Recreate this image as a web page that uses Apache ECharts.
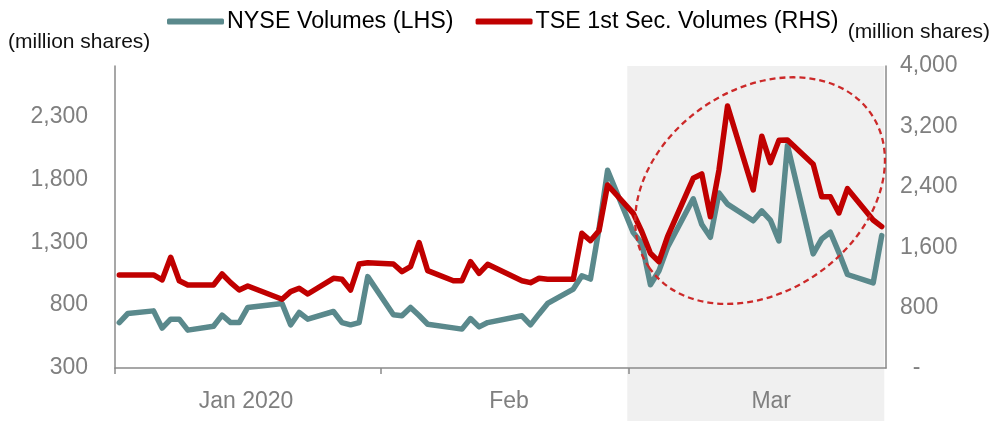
<!DOCTYPE html>
<html>
<head>
<meta charset="utf-8">
<script src="https://cdn.jsdelivr.net/npm/echarts@6/dist/echarts.min.js"></script>
<style>
html, body { margin: 0; padding: 0; background: #fff; }
#chart { width: 992px; height: 421px; }
</style>
</head>
<body>
<div id="chart"></div>
<script>
// trading days, Jan-Mar 2020
var dates = [
    '2020-01-02','2020-01-03','2020-01-06','2020-01-07','2020-01-08','2020-01-09','2020-01-10',
    '2020-01-13','2020-01-14','2020-01-15','2020-01-16','2020-01-17','2020-01-21','2020-01-22',
    '2020-01-23','2020-01-24','2020-01-27','2020-01-28','2020-01-29','2020-01-30','2020-01-31',
    '2020-02-03','2020-02-04','2020-02-05','2020-02-06','2020-02-07','2020-02-10','2020-02-11',
    '2020-02-12','2020-02-13','2020-02-14','2020-02-18','2020-02-19','2020-02-20','2020-02-21',
    '2020-02-24','2020-02-25','2020-02-26','2020-02-27','2020-02-28',
    '2020-03-02','2020-03-03','2020-03-04','2020-03-05','2020-03-06','2020-03-09','2020-03-10',
    '2020-03-11','2020-03-12','2020-03-13','2020-03-16','2020-03-17','2020-03-18','2020-03-19',
    '2020-03-20','2020-03-23','2020-03-24','2020-03-25','2020-03-26','2020-03-27','2020-03-30',
    '2020-03-31'
];
var nyseVolumes = [
    661, 733, 754, 617, 688, 688, 601,
    632, 720, 661, 661, 781, 813, 643,
    741, 688, 749, 661, 643, 661, 1026,
    723, 715, 781, 717, 648, 619, 609,
    693, 627, 661, 715, 643, 730, 813,
    927, 1033, 1007, 1406, 1871,
    1376, 1289, 962, 1073, 1259, 1645, 1440,
    1339, 1691, 1602, 1470, 1549, 1476, 1310,
    2070, 1207, 1326, 1379, 1217, 1043, 976,
    1352
];
var tseVolumes = [
    1232, 1232, 1232, 1166, 1466, 1156, 1099,
    1099, 1245, 1130, 1033, 1086, 910, 1011,
    1056, 980, 1188, 1175, 1033, 1377, 1395,
    1377, 1276, 1342, 1660, 1289, 1156, 1156,
    1408, 1254, 1373, 1156, 1130, 1188, 1175,
    1175, 1784, 1686, 1819, 2424,
    2049, 1805, 1520, 1408, 1739, 2513, 2570,
    2004, 2620, 3470, 2358, 3070, 2719, 3015,
    3020, 2700, 2269, 2269, 2053, 2375, 1960,
    1872
];
var seriesNames = ['NYSE Volumes (LHS)', 'TSE 1st Sec. Volumes (RHS)'];
var leftTicks = [300, 800, 1300, 1800, 2300];
// x axis counts days from 1 Jan 2020
var monthLabels = ['Jan 2020', 'Feb', 'Mar'];
var monthLabelDays = [15.8, 46.5, 77.1];
var monthTickDays = [0.5, 31.5, 60.5];
var marchShade = [60.3, 90.3];
var ellipseCenter = [75.8, 2350];

function dayOf(s) {
    var p = s.split('-');
    return (Date.UTC(+p[0], +p[1] - 1, +p[2]) - Date.UTC(2020, 0, 1)) / 86400000;
}

function formatNumber(v) {
    if (v === 0) return '  -';
    var s = String(v);
    var re = /(\d)(\d{3})(,|$)/;
    while (re.test(s)) s = s.replace(re, '$1,$2$3');
    return s;
}

var chart = echarts.init(document.getElementById('chart'));
var font = "'Liberation Sans', Arial, sans-serif";
var axisGray = '#8a8a8a';
var labelGray = '#7f7f7f';

var option = {
    animation: false,
    textStyle: { fontFamily: font },
    title: [
        { text: '(million shares)', left: 8, top: 32, padding: 0,
          textStyle: { fontSize: 21, fontWeight: 'normal', color: '#111', fontFamily: font } },
        { text: '(million shares)', right: 2, top: 22, padding: 0,
          textStyle: { fontSize: 21, fontWeight: 'normal', color: '#111', fontFamily: font } }
    ],
    legend: {
        data: seriesNames,
        left: 162,
        top: 5,
        icon: 'roundRect',
        itemWidth: 57,
        itemHeight: 6,
        itemGap: 22,
        textStyle: { fontSize: 23.3, color: '#000', fontFamily: font, padding: [0, 0, 0, -2] }
    },
    grid: [
        { left: 115, right: 106, top: 66, bottom: 53 },
        { left: 115, right: 106, top: 368, bottom: 0 }
    ],
    xAxis: [
        {
            type: 'value', gridIndex: 0, min: 0.5, max: 90.5,
            axisLine: { lineStyle: { color: axisGray, width: 1.5 } },
            axisTick: { customValues: monthTickDays, length: 6, lineStyle: { color: axisGray, width: 1.5 } },
            axisLabel: {
                customValues: monthLabelDays,
                margin: 22,
                fontSize: 23,
                color: labelGray,
                formatter: function (v) { return monthLabels[monthLabelDays.indexOf(v)]; }
            },
            splitLine: { show: false }
        },
        { type: 'value', gridIndex: 1, min: 0.5, max: 90.5, show: false }
    ],
    yAxis: [
        {
            type: 'value', gridIndex: 0, min: 300, max: 2700,
            axisLine: { show: true, lineStyle: { color: axisGray, width: 1.5 } },
            axisTick: { show: false },
            axisLabel: { customValues: leftTicks, margin: 27, fontSize: 23, color: labelGray, formatter: formatNumber },
            splitLine: { show: false }
        },
        {
            type: 'value', gridIndex: 0, position: 'right', min: 0, max: 4000, interval: 800,
            axisLine: { show: true, lineStyle: { color: axisGray, width: 1.5 } },
            axisTick: { show: false },
            axisLabel: { margin: 14, fontSize: 23, color: labelGray, formatter: formatNumber },
            splitLine: { show: false }
        },
        { type: 'value', gridIndex: 1, min: 0, max: 1, show: false }
    ],
    series: [
        {
            name: 'shade', type: 'line', xAxisIndex: 0, yAxisIndex: 0, data: [], silent: true,
            markArea: { silent: true, z: -1, itemStyle: { color: '#f0f0f0' },
                data: [[{ xAxis: marchShade[0] }, { xAxis: marchShade[1] }]] }
        },
        {
            name: 'shadeBelow', type: 'line', xAxisIndex: 1, yAxisIndex: 2, data: [], silent: true,
            markArea: { silent: true, z: -1, itemStyle: { color: '#f0f0f0' },
                data: [[{ xAxis: marchShade[0] }, { xAxis: marchShade[1] }]] }
        },
        {
            name: seriesNames[0], type: 'line', xAxisIndex: 0, yAxisIndex: 0,
            data: dates.map(function (d, i) { return [dayOf(d), nyseVolumes[i]]; }),
            showSymbol: false, symbol: 'none', color: '#5a898c', z: 3,
            lineStyle: { width: 5.5, color: '#5a898c', cap: 'round', join: 'round' }
        },
        {
            name: seriesNames[1], type: 'line', xAxisIndex: 0, yAxisIndex: 1,
            data: dates.map(function (d, i) { return [dayOf(d), tseVolumes[i]]; }),
            showSymbol: false, symbol: 'none', color: '#c00000', z: 4,
            lineStyle: { width: 5.5, color: '#c00000', cap: 'round', join: 'round' }
        }
    ]
};
chart.setOption(option);

// dashed ellipse marking the March spike
var c = chart.convertToPixel({ xAxisIndex: 0, yAxisIndex: 1 }, ellipseCenter);
chart.setOption({
    graphic: [{
        type: 'ellipse',
        x: c[0], y: c[1],
        rotation: 35 * Math.PI / 180,
        shape: { cx: 0, cy: 0, rx: 135, ry: 101 },
        style: { fill: 'none', stroke: '#cc2929', lineWidth: 2.3, lineDash: [6, 4] },
        silent: true,
        z: 100
    }]
});
</script>
</body>
</html>
